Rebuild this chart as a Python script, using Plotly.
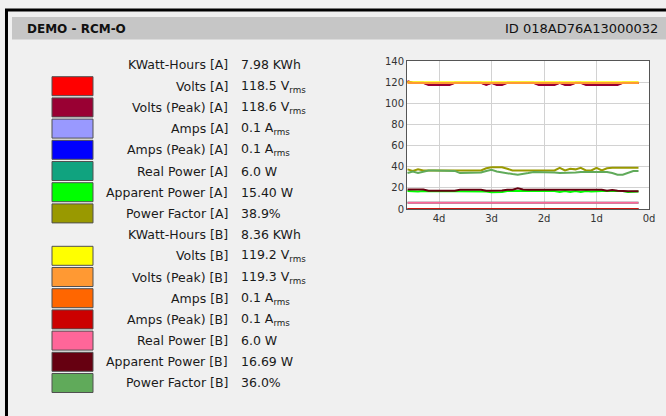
import plotly.graph_objects as go

# ---------------- data ----------------
DAYS_AGO = [4.6, 4.5, 4.4, 4.3, 4.2, 4.1, 4.0, 3.9, 3.8, 3.7, 3.6, 3.5, 3.4, 3.3, 3.2,
            3.1, 3.0, 2.9, 2.8, 2.7, 2.6, 2.5, 2.4, 2.3, 2.2, 2.1, 2.0, 1.9, 1.8, 1.7,
            1.6, 1.5, 1.4, 1.3, 1.2, 1.1, 1.0, 0.9, 0.8, 0.7, 0.6, 0.5, 0.4, 0.3, 0.2]
SPAN_DAYS = [4.6, 0.2]

VOLTS_A = [120.5, 119.3, 119.3, 119.3, 117.9, 117.9, 117.9, 117.9, 117.9, 119.3,
           119.3, 119.3, 119.3, 119.3, 119.3, 117.9, 119.3, 117.9, 117.9, 119.3,
           119.3, 119.3, 119.3, 119.3, 119.3, 117.9, 117.9, 117.9, 117.9, 119.3,
           117.9, 117.9, 119.3, 119.3, 117.9, 117.9, 117.9, 117.9, 117.9, 117.9,
           117.9, 119.3, 119.3, 119.3, 119.3]
VOLTS_PEAK_A = [121.0, 119.4, 119.4, 119.4, 117.3, 117.3, 117.3, 117.3, 117.3, 119.4,
                119.4, 119.4, 119.4, 119.4, 119.4, 117.3, 119.4, 117.3, 117.3, 119.4,
                119.4, 119.4, 119.4, 119.4, 119.4, 117.3, 117.3, 117.3, 117.3, 119.4,
                117.3, 117.3, 119.4, 119.4, 117.3, 117.3, 117.3, 117.3, 117.3, 117.3,
                117.3, 119.4, 119.4, 119.4, 119.4]
VOLTS_B = [119.9, 119.9]
VOLTS_PEAK_B = [119.1, 119.1]
AMPS_A = [0.1, 0.1]
AMPS_PEAK_A = [0.1, 0.1]
AMPS_B = [0.1, 0.1]
AMPS_PEAK_B = [0.1, 0.1]
REAL_POWER_A = [6.0, 6.0]
REAL_POWER_B = [6.0, 6.0]
APPARENT_A = [17.0, 16.5, 16.5, 17.0, 17.0, 17.0, 17.0, 17.0, 17.0, 17.0,
              17.0, 17.0, 17.0, 17.0, 17.0, 16.5, 15.8, 15.8, 16.0, 17.0,
              17.0, 17.0, 17.0, 17.0, 17.0, 17.0, 17.0, 17.0, 17.0, 16.0,
              17.0, 16.0, 17.0, 16.0, 17.0, 16.5, 17.0, 17.0, 17.0, 17.0,
              17.0, 17.0, 16.0, 16.0, 16.5]
APPARENT_B = [18.5, 18.5, 18.5, 18.5, 17.2, 17.2, 17.2, 17.2, 17.2, 17.2,
              18.3, 18.3, 18.3, 18.3, 18.3, 17.3, 17.3, 17.3, 17.5, 18.3,
              18.3, 19.5, 18.5, 18.3, 18.3, 18.3, 18.3, 18.3, 18.3, 18.3,
              18.3, 18.3, 18.3, 18.3, 18.3, 18.3, 18.3, 18.3, 17.2, 18.0,
              17.2, 16.8, 16.8, 16.8, 16.8]
PF_A = [37.5, 36.0, 37.5, 36.5, 36.5, 36.5, 36.5, 36.5, 36.5, 36.5,
        36.5, 36.5, 36.5, 36.5, 36.5, 38.5, 39.5, 39.5, 39.5, 38.0,
        36.5, 36.5, 36.5, 36.5, 36.5, 36.5, 36.5, 36.5, 36.5, 39.0,
        36.5, 38.0, 37.5, 39.0, 36.5, 36.5, 39.0, 36.5, 38.5, 39.0,
        39.0, 39.0, 39.0, 39.0, 39.0]
PF_B = [34.0, 35.5, 34.0, 35.5, 36.5, 36.5, 36.5, 36.5, 36.5, 36.0,
        34.0, 34.0, 34.0, 34.0, 34.5, 36.0, 37.0, 35.5, 34.5, 34.0,
        33.0, 32.5, 33.0, 34.0, 35.0, 35.0, 35.0, 35.0, 34.5, 34.0,
        34.0, 34.0, 34.5, 35.0, 35.0, 35.0, 35.0, 35.0, 35.0, 34.0,
        32.5, 32.5, 34.0, 36.0, 36.0]

X_TICK_VALS = [4, 3, 2, 1, 0]
X_TICK_TEXT = ["4d", "3d", "2d", "1d", "0d"]

LEGEND_LABELS = ["KWatt-Hours [A]", "Volts [A]", "Volts (Peak) [A]", "Amps [A]",
                 "Amps (Peak) [A]", "Real Power [A]", "Apparent Power [A]", "Power Factor [A]",
                 "KWatt-Hours [B]", "Volts [B]", "Volts (Peak) [B]", "Amps [B]",
                 "Amps (Peak) [B]", "Real Power [B]", "Apparent Power [B]", "Power Factor [B]"]
LEGEND_VALUES = ["7.98 KWh", "118.5 V<sub>rms</sub>", "118.6 V<sub>rms</sub>", "0.1 A<sub>rms</sub>",
                 "0.1 A<sub>rms</sub>", "6.0 W", "15.40 W", "38.9%",
                 "8.36 KWh", "119.2 V<sub>rms</sub>", "119.3 V<sub>rms</sub>", "0.1 A<sub>rms</sub>",
                 "0.1 A<sub>rms</sub>", "6.0 W", "16.69 W", "36.0%"]
LEGEND_COLORS = [None, "#ff0000", "#990033", "#9999ff", "#0000ff", "#10a37f", "#00ff00", "#999900",
                 None, "#ffff00", "#ff9933", "#ff6600", "#cc0000", "#ff6699", "#660011", "#60aa5a"]

# ---------------- geometry (pixels) ----------------
W, H = 666, 416
PL, PR, PT, PB = 407, 649, 61, 209


def px(x):
    return (x - PL) / (PR - PL)


def py(y):
    return (PB - y) / (PB - PT)


fig = go.Figure()

series = [
    (SPAN_DAYS, AMPS_A, "#9999ff", 1.5),
    (SPAN_DAYS, AMPS_PEAK_A, "#0000ff", 1.5),
    (SPAN_DAYS, AMPS_B, "#ff6600", 1.5),
    (SPAN_DAYS, AMPS_PEAK_B, "#cc0000", 1.5),
    (SPAN_DAYS, REAL_POWER_A, "#10a37f", 2),
    (SPAN_DAYS, REAL_POWER_B, "#ff6699", 2),
    (DAYS_AGO, APPARENT_A, "#00ff00", 2),
    (DAYS_AGO, APPARENT_B, "#660011", 2),
    (DAYS_AGO, PF_A, "#999900", 2),
    (DAYS_AGO, PF_B, "#60aa5a", 2),
    (DAYS_AGO, VOLTS_A, "#ff0000", 2),
    (DAYS_AGO, VOLTS_PEAK_A, "#990033", 2),
    (SPAN_DAYS, VOLTS_B, "#ffff00", 2),
    (SPAN_DAYS, VOLTS_PEAK_B, "#ff9933", 2),
]
for xs, ys, col, lw in series:
    fig.add_trace(go.Scatter(x=xs, y=ys, mode="lines", line=dict(color=col, width=lw),
                             showlegend=False, hoverinfo="skip"))

frame_path = "M {:.4f},{:.4f} L {:.4f},{:.4f} L {:.4f},{:.4f}".format(
    px(6.5), py(H + 2), px(6.5), py(10), px(W), py(10))
shapes = [
    # outer frame (left + top)
    dict(type="path", xref="paper", yref="paper", path=frame_path,
         line=dict(color="#000000", width=3), layer="above"),
    # header bar
    dict(type="rect", xref="paper", yref="paper", x0=px(12), x1=px(W + 4), y0=py(17), y1=py(39.5),
         fillcolor="#c6c6c6", line=dict(width=0), layer="above"),
]

annotations = [
    dict(text="<b>DEMO - RCM-O</b>", x=px(25), y=py(28.5), xref="paper", yref="paper",
         xanchor="left", yanchor="middle", showarrow=False,
         font=dict(family="DejaVu Sans", size=12, color="#111111")),
    dict(text="ID 018AD76A13000032", x=px(660), y=py(28.5), xref="paper", yref="paper",
         xanchor="right", yanchor="middle", showarrow=False,
         font=dict(family="DejaVu Sans", size=13, color="#111111")),
]

ROW0, ROWSTEP = 65.0, 21.2
for i, (lab, val, col) in enumerate(zip(LEGEND_LABELS, LEGEND_VALUES, LEGEND_COLORS)):
    yc = ROW0 + ROWSTEP * i
    if col is not None:
        shapes.append(dict(type="rect", xref="paper", yref="paper",
                           x0=px(52), x1=px(93), y0=py(yc - 9.5), y1=py(yc + 9.5),
                           fillcolor=col, line=dict(color="#505050", width=1), layer="above"))
    annotations.append(dict(text=lab, x=px(230), y=py(yc), xref="paper", yref="paper",
                            xanchor="right", yanchor="middle", showarrow=False,
                            font=dict(family="DejaVu Sans", size=12.5, color="#1a1a1a")))
    annotations.append(dict(text=val, x=px(239), y=py(yc), xref="paper", yref="paper",
                            xanchor="left", yanchor="middle", showarrow=False,
                            font=dict(family="DejaVu Sans", size=12.5, color="#1a1a1a")))

fig.update_layout(
    width=W, height=H,
    margin=dict(l=PL, r=W - PR, t=PT, b=H - PB, pad=0),
    paper_bgcolor="#f0f0f0", plot_bgcolor="#ffffff",
    shapes=shapes, annotations=annotations,
    showlegend=False,
    xaxis=dict(range=[4.61, 0], tickvals=X_TICK_VALS, ticktext=X_TICK_TEXT,
               showgrid=True, gridcolor="#d2d2d2", gridwidth=1, zeroline=False,
               showline=True, linecolor="#555555", linewidth=1, mirror=True,
               ticks="", tickfont=dict(family="DejaVu Sans", size=10, color="#333333"),
               fixedrange=True),
    yaxis=dict(range=[0, 140], dtick=20, tick0=0,
               showgrid=True, gridcolor="#d2d2d2", gridwidth=1, zeroline=False,
               showline=True, linecolor="#555555", linewidth=1, mirror=True,
               ticks="", tickfont=dict(family="DejaVu Sans", size=10, color="#333333"),
               fixedrange=True),
)

fig.write_html("out.html", config=dict(displayModeBar=False),
               post_script=("document.documentElement.style.background='#f0f0f0';"
                            "document.documentElement.style.overflow='hidden';"
                            "document.body.style.margin='0';document.body.style.overflow='hidden';"))
